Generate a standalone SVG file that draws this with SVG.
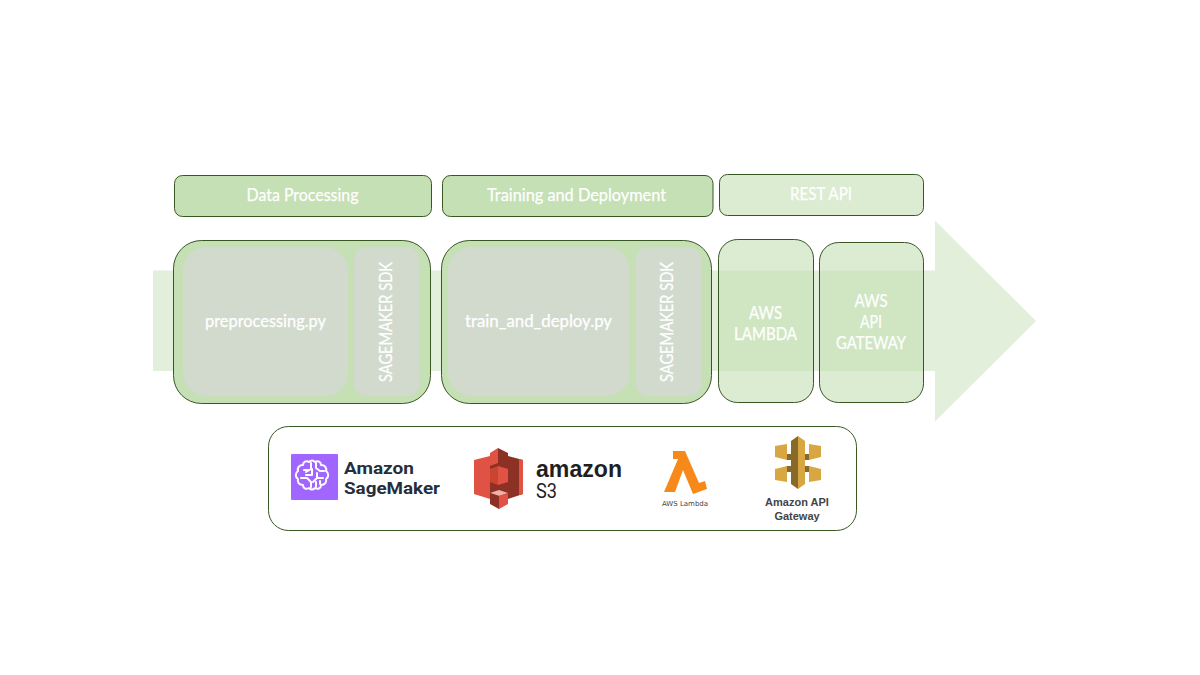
<svg xmlns="http://www.w3.org/2000/svg" width="1200" height="675" viewBox="0 0 1200 675">
<style>
.band{fill:#e2efda}
.hd{fill:#c5e0b4;stroke:#385723;stroke-width:1}
.soft{fill:#c5e0b4;fill-opacity:.6;stroke:#385723;stroke-width:1}
.in{fill:#d2dace}
.lbl{font-family:"Lato","Carlito","Liberation Sans",sans-serif;font-size:17px;fill:#fff;stroke:#fff;stroke-width:.25;text-anchor:middle}
.panel{fill:#fff;stroke:#385723;stroke-width:1}
.sm{font-family:"Roboto","Liberation Sans",sans-serif;font-weight:700;font-size:17px;fill:#232f3e}
.gw{font-family:"Liberation Sans",Arial,sans-serif;font-weight:700;font-size:11px;fill:#444;text-anchor:middle}
.brain{fill:none;stroke:#fff;stroke-width:2;stroke-linecap:round;stroke-linejoin:round}
</style>
<g id="flow-arrow"><polygon class="band" points="153,270.5 935,270.5 935,220.5 1036,321 935,421.5 935,371 153,371"/></g>
<g id="data-processing-header"><rect class="hd" x="174.5" y="175.5" width="257" height="41" rx="8"/><text class="lbl" x="302.500" y="201" textLength="112" lengthAdjust="spacingAndGlyphs">Data Processing</text></g>
<g id="training-header"><rect class="hd" x="442.500" y="175.500" width="270.500" height="41" rx="8"/><text class="lbl" x="576.500" y="201" textLength="179" lengthAdjust="spacingAndGlyphs">Training and Deployment</text></g>
<g id="rest-header"><rect class="soft" x="719.500" y="174.500" width="204" height="41" rx="8"/><text class="lbl" x="821" y="200" textLength="62" lengthAdjust="spacingAndGlyphs">REST API</text></g>
<g id="data-processing"><rect class="hd" x="173.500" y="240.500" width="257" height="163" rx="28"/><rect class="in" x="183" y="247" width="165" height="149" rx="24"/><rect class="in" x="354" y="247" width="65" height="149" rx="12"/><text class="lbl" x="265.500" y="327" textLength="121" lengthAdjust="spacingAndGlyphs">preprocessing.py</text><text class="lbl" transform="translate(392 322) rotate(-90)" textLength="120" lengthAdjust="spacingAndGlyphs">SAGEMAKER SDK</text></g>
<g id="training"><rect class="hd" x="441.500" y="240.500" width="270" height="163" rx="28"/><rect class="in" x="448" y="247" width="182" height="149" rx="24"/><rect class="in" x="636" y="247" width="65" height="149" rx="12"/><text class="lbl" x="538.500" y="327" textLength="147" lengthAdjust="spacingAndGlyphs">train_and_deploy.py</text><text class="lbl" transform="translate(673 322) rotate(-90)" textLength="120" lengthAdjust="spacingAndGlyphs">SAGEMAKER SDK</text></g>
<g id="aws-lambda"><rect class="soft" x="718.500" y="239.500" width="95" height="163" rx="19"/><text class="lbl" x="765.500" y="319" textLength="33" lengthAdjust="spacingAndGlyphs">AWS</text><text class="lbl" x="765.500" y="340" textLength="63" lengthAdjust="spacingAndGlyphs">LAMBDA</text></g>
<g id="api-gateway"><rect class="soft" x="819.500" y="242.500" width="104" height="160" rx="19"/><text class="lbl" x="871" y="307" textLength="33" lengthAdjust="spacingAndGlyphs">AWS</text><text class="lbl" x="871" y="328" textLength="22" lengthAdjust="spacingAndGlyphs">API</text><text class="lbl" x="871" y="349" textLength="70" lengthAdjust="spacingAndGlyphs">GATEWAY</text></g>
<g id="connectors"></g>
<g id="services-panel"><rect class="panel" x="268.500" y="426.500" width="588" height="104" rx="20"/></g>
<g id="sagemaker-logo">
<rect x="291" y="454" width="47" height="46" rx="1" fill="#a166ff"/>
<path class="brain" d="M309 462c-3-2-6 0-6 3-4 0-6 3-5 6-3 2-3 6 0 8-1 3 1 6 5 6 0 3 3 5 6 3 2 2 4 2 6 0 3 2 6 0 6-3 4 0 6-3 5-6 3-2 3-6 0-8 1-3-1-6-5-6 0-3-3-5-6-3-2-2-4-2-6 0z"/>
<path class="brain" d="M311 463v6l-5 3M304 470h4M301 478h6l4 4v5M306 475h6v-6M316 463v5l4 3h4M317 473v5l-4 4M317 478h6M320 484v-3M316 487v-5"/>
<text class="sm" x="344" y="474" textLength="70" lengthAdjust="spacingAndGlyphs">Amazon</text><text class="sm" x="344" y="494" textLength="96" lengthAdjust="spacingAndGlyphs">SageMaker</text>
</g>
<g id="s3-logo">
<polygon points="474,460 490,456 490,499 474,494" fill="#e05243"/>
<polygon points="523,460 508,456 508,499 523,494" fill="#8c3123"/>
<polygon points="519,459 523,460 523,494 519,495" fill="#e05243"/>
<polygon points="490,453 508,453 508,504 490,504" fill="#8c3123"/>
<polygon points="498,448 490,453 490,466 498,463" fill="#e05243"/>
<polygon points="498,448 508,453 508,466 498,463" fill="#8c3123"/>
<polygon points="490,469 498,466 498,485 490,482" fill="#c9452f"/>
<polygon points="498,466 508,469 508,482 498,485" fill="#e05243"/>
<polygon points="490,493 499,490 508,493 499,496" fill="#f2b0a9"/>
<polygon points="490,493 499,496 499,509 490,504" fill="#8c3123"/>
<polygon points="499,496 508,493 508,504 499,509" fill="#e05243"/>
<text x="536" y="477" font-family="Liberation Sans,Arial,sans-serif" font-weight="700" font-size="24" fill="#1f1f1f" textLength="86" lengthAdjust="spacingAndGlyphs">amazon</text>
<text x="536" y="498" font-family="Roboto,Liberation Sans,sans-serif" font-size="21" fill="#1f1f1f" textLength="21" lengthAdjust="spacingAndGlyphs">S3</text>
</g>
<g id="lambda-logo">
<polygon points="673,451 685,451 699,483 705,481 707,489 693,494 683,470 675,492 664,492 678,459 673,459" fill="#f7881a"/>
<text x="685" y="506" text-anchor="middle" font-family="DejaVu Sans,sans-serif" font-size="7" fill="#444">AWS Lambda</text>
</g>
<g id="gateway-logo">
<polygon points="775,446 787,444 787,460 775,457" fill="#d9a741"/>
<polygon points="787,454 791,454 791,460 787,460" fill="#876929"/>
<polygon points="821,446 809,444 809,460 821,457" fill="#d9a741"/>
<polygon points="805,454 809,454 809,460 805,460" fill="#876929"/>
<polygon points="775,469 787,466 787,482 775,480" fill="#d9a741"/>
<polygon points="787,466 791,466 791,472 787,472" fill="#876929"/>
<polygon points="821,469 809,466 809,482 821,480" fill="#d9a741"/>
<polygon points="805,466 809,466 809,472 805,472" fill="#876929"/>
<polygon points="798,436 791,441 791,484 798,489" fill="#876929"/>
<polygon points="798,436 805,441 805,484 798,489" fill="#d9a741"/>
<text class="gw" x="797" y="506">Amazon API</text><text class="gw" x="797" y="520">Gateway</text>
</g>
</svg>
